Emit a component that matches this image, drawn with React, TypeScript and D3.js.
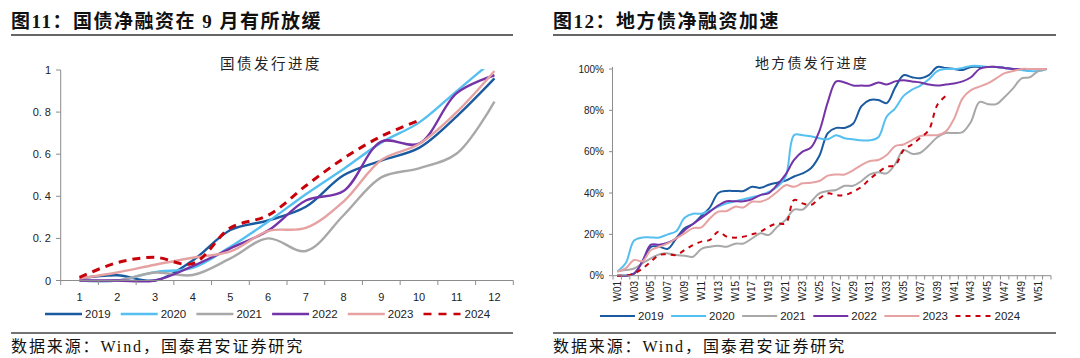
import React from 'react';
import * as d3 from 'd3';

const months = ['1', '2', '3', '4', '5', '6', '7', '8', '9', '10', '11', '12'];
const yTicksLeft = [0, 0.2, 0.4, 0.6, 0.8, 1];
const yTickLabelsLeft = ['0', '0. 2', '0. 4', '0. 6', '0. 8', '1'];

const nat2019 = [0.01, 0.025, 0, 0.095, 0.24, 0.285, 0.35, 0.5, 0.57, 0.63, 0.78, 0.96];
const nat2020 = [0, 0, 0.04, 0.06, 0.16, 0.28, 0.41, 0.53, 0.655, 0.75, 0.9, 1.05];
const nat2021 = [0, 0, 0.038, 0.026, 0.105, 0.2, 0.14, 0.31, 0.49, 0.533, 0.603, 0.85];
const nat2022 = [0, 0, 0, 0.068, 0.153, 0.237, 0.38, 0.425, 0.66, 0.65, 0.89, 0.975];
const nat2023 = [0.01, 0.038, 0.075, 0.108, 0.138, 0.235, 0.25, 0.375, 0.572, 0.648, 0.8, 0.995];
const nat2024 = [0.015, 0.085, 0.11, 0.08, 0.25, 0.31, 0.45, 0.58, 0.685, 0.76, null, null];

const weeks = d3.range(1, 53).map((i) => 'W' + String(i).padStart(2, '0'));
const yTicksRight = [0, 0.2, 0.4, 0.6, 0.8, 1];

const loc2019 = [0, 0, 1, 7, 14, 14, 13, 18, 23, 25, 29, 33, 40, 41, 41, 41, 43, 42.5, 44, 45, 46, 48, 49.5, 52, 58, 69, 71.5, 71.5, 73.5, 82, 85, 85, 83.5, 91, 97, 96, 95.5, 97, 101, 100.5, 100, 99.5, 101, 101, 101, 101, 100.5, 100, 100, 100, 100, 100];
const loc2020 = [2, 6, 17, 18.5, 18.5, 18.5, 20, 21.5, 28, 30, 30, 31.5, 33.5, 35, 36, 37, 38, 39, 40.5, 43, 48, 68, 68, 67.5, 66.5, 66, 68, 66.5, 66, 65.5, 65.5, 67, 77, 81, 87, 90, 92, 95, 99, 100, 100, 100.5, 101.5, 101.5, 101, 101, 100.5, 100, 99.5, 99, 99, 100];
const loc2021 = [2, 2.7, 3.5, 6, 8.4, 10.3, 10.8, 10, 9.7, 9.2, 13, 14, 14.5, 14, 15.5, 15.6, 18, 20.5, 19.7, 23.7, 27, 32, 32, 35.8, 39.8, 41, 41.5, 43.5, 43.5, 45.8, 49, 50, 49.5, 54, 60.8, 59, 59.5, 63, 67, 69, 69, 69.5, 74.5, 84, 83, 83, 86.5, 90.6, 95.5, 96, 99, 100];
const loc2022 = [0, 0, 1, 7, 15, 15, 16, 18, 22, 25, 28, 31, 34, 36, 36, 36, 37, 39, 40, 44, 49, 56, 60, 62, 70, 84, 94, 93.5, 92, 92, 92, 93.5, 92.5, 94, 94.5, 94, 93.5, 92.5, 92, 92.5, 93, 94, 96, 100, 101, 101, 100.5, 100, 100, 100, 100, 100];
const loc2023 = [2, 3.5, 7.6, 7, 12.4, 14, 15.6, 18, 20.5, 23, 23.4, 27.7, 31, 31.3, 33.4, 33, 35.8, 35.8, 37.4, 40.6, 43.8, 43, 44.7, 45, 45.8, 48.4, 49, 49, 51, 53.5, 55.5, 56, 58.4, 62.7, 63.5, 65.6, 67.6, 68, 68, 69.7, 76, 85.8, 89.8, 91.5, 93, 95.5, 98, 99, 100, 100, 100, 100];
const loc2024 = [0, 0, 1, 3.5, 6.8, 10, 10.3, 10, 12.4, 14.8, 16.5, 17.3, 21.3, 18.9, 18.4, 18.9, 20, 21.3, 23.7, 25.3, 25.3, 36.6, 35, 34.2, 37.4, 39.8, 39, 39, 40.6, 43, 46.8, 50, 52.7, 53.5, 60.8, 63.5, 66.8, 70.5, 82.6, 87];

const years = ['2019', '2020', '2021', '2022', '2023', '2024'];
const colors = ['#1a5aa0', '#55c0f0', '#a8a8a8', '#7434a8', '#e6a2a2', '#c8000a'];

const natSeries = [nat2019, nat2020, nat2021, nat2022, nat2023, nat2024];
const locSeries = [loc2019, loc2020, loc2021, loc2022, loc2023, loc2024].map((s) =>
  weeks.map((_, i) => (i < s.length ? s[i] / 100 : null))
);

const SANS = '"Liberation Sans", Arial, "Noto Sans CJK SC", sans-serif';
const SERIF = '"Liberation Serif", "Times New Roman", "Noto Sans CJK SC", serif';
const AXIS = '#8c8c8c';

function Header({ x0, x1, title }: { x0: number; x1: number; title: string }) {
  return (
    <g>
      <text x={x0} y={28} fontFamily={SERIF} fontWeight="bold" fontSize={19} letterSpacing={1.5} fill="#111">
        {title}
      </text>
      <line x1={x0} x2={x1} y1={35} y2={35} stroke="#666" strokeWidth={2} />
      <line x1={x0} x2={x1} y1={333} y2={333} stroke="#444" strokeWidth={1.5} />
      <text x={x0} y={352} fontFamily={SERIF} fontSize={16} letterSpacing={1.9} fill="#111">
        数据来源：Wind，国泰君安证券研究
      </text>
    </g>
  );
}

function Legend({ x0, step, lineLen, y, dash, sw }: { x0: number; step: number; lineLen: number; y: number; dash: string; sw: number }) {
  return (
    <g>
      {years.map((yr, i) => {
        const lx = x0 + i * step;
        return (
          <g key={yr}>
            <line x1={lx} x2={lx + lineLen} y1={y} y2={y} stroke={colors[i]} strokeWidth={sw} strokeDasharray={i === 5 ? dash : undefined} />
            <text x={lx + lineLen + (i === 5 ? 4 : 3)} y={y + 4} fontFamily={SANS} fontSize={11.5} fill="#222">
              {yr}
            </text>
          </g>
        );
      })}
    </g>
  );
}

function LeftChart() {
  const x = d3.scaleBand<string>().domain(months).range([60.7, 513.3]);
  const y = d3.scaleLinear().domain([0, 1]).range([280.5, 70]);
  const bw = x.bandwidth();
  const line = d3
    .line<number | null>()
    .defined((d) => d != null)
    .x((_, i) => (x(months[i]) as number) + bw / 2)
    .y((d) => y(d as number))
    .curve(d3.curveCatmullRom.alpha(0.5));
  const bounds = months.map((m) => x(m) as number).concat([x.range()[1]]);
  return (
    <g>
      <defs>
        <clipPath id="clipL">
          <rect x={55} y={69} width={470} height={220} />
        </clipPath>
      </defs>
      <text x={271} y={69} textAnchor="middle" fontFamily={SERIF} fontSize={14.5} letterSpacing={2.5} fill="#222">
        国债发行进度
      </text>
      <line x1={60.7} x2={60.7} y1={70} y2={280.5} stroke={AXIS} strokeWidth={1} />
      {yTicksLeft.map((t, i) => (
        <g key={t}>
          <line x1={56} x2={60.7} y1={y(t)} y2={y(t)} stroke={AXIS} />
          <text x={51} y={y(t) + 4} textAnchor="end" fontFamily={SANS} fontSize={11} fill="#222">
            {yTickLabelsLeft[i]}
          </text>
        </g>
      ))}
      <g clipPath="url(#clipL)">
        {natSeries.map((s, i) => (
          <path
            key={years[i]}
            d={line(s) as string}
            fill="none"
            stroke={colors[i]}
            strokeWidth={i === 5 ? 3 : 2.4}
            strokeDasharray={i === 5 ? '8,6' : undefined}
          />
        ))}
      </g>
      <line x1={60.7} x2={513.3} y1={280.5} y2={280.5} stroke={AXIS} strokeWidth={1} />
      {bounds.map((b, i) => (
        <line key={i} x1={b} x2={b} y1={280.5} y2={285} stroke={AXIS} />
      ))}
      {months.map((m) => (
        <text key={m} x={(x(m) as number) + bw / 2} y={301} textAnchor="middle" fontFamily={SANS} fontSize={11} fill="#222">
          {m}
        </text>
      ))}
      <Legend x0={45} step={75.7} lineLen={37} y={314} dash="8,7" sw={2.5} />
    </g>
  );
}

function RightChart() {
  const x = d3.scaleBand<string>().domain(weeks).range([613, 1051]);
  const y = d3.scaleLinear().domain([0, 1]).range([275.7, 69]);
  const bw = x.bandwidth();
  const line = d3
    .line<number | null>()
    .defined((d) => d != null)
    .x((_, i) => (x(weeks[i]) as number) + bw / 2)
    .y((d) => y(d as number))
    .curve(d3.curveCatmullRom.alpha(0.5));
  const bounds = weeks.map((w) => x(w) as number).concat([x.range()[1]]);
  return (
    <g>
      <text x={812} y={68} textAnchor="middle" fontFamily={SERIF} fontSize={14} letterSpacing={2.3} fill="#222">
        地方债发行进度
      </text>
      <line x1={612.5} x2={612.5} y1={67} y2={275.7} stroke={AXIS} strokeWidth={1} />
      {yTicksRight.map((t) => (
        <g key={t}>
          <line x1={609} x2={612.5} y1={y(t)} y2={y(t)} stroke={AXIS} />
          <text x={604} y={y(t) + 3.5} textAnchor="end" fontFamily={SANS} fontSize={10} fill="#222">
            {d3.format('.0%')(t)}
          </text>
        </g>
      ))}
      {locSeries.map((s, i) => (
        <path
          key={years[i]}
          d={line(s) as string}
          fill="none"
          stroke={colors[i]}
          strokeWidth={2}
          strokeDasharray={i === 5 ? '5,5' : undefined}
        />
      ))}
      <line x1={613} x2={1051} y1={275.7} y2={275.7} stroke={AXIS} strokeWidth={1} />
      {bounds.map((b, i) => (
        <line key={i} x1={b} x2={b} y1={275.7} y2={279.5} stroke={AXIS} />
      ))}
      {weeks.map((w, i) =>
        i % 2 === 0 ? (
          <text
            key={w}
            transform={`translate(${(x(w) as number) + bw / 2 + 3.5},281) rotate(-90)`}
            textAnchor="end"
            fontFamily={SANS}
            fontSize={10}
            fill="#222"
          >
            {w}
          </text>
        ) : null
      )}
      <Legend x0={600} step={71.1} lineLen={35} y={316} dash="5,5" sw={2} />
    </g>
  );
}

export default function App() {
  return (
    <svg width={1080} height={358} style={{ position: 'absolute', left: 0, top: 0, background: '#fff' }}>
      <rect width={1080} height={358} fill="#fff" />
      <Header x0={11} x1={513} title="图11：国债净融资在 9 月有所放缓" />
      <Header x0={553} x1={1056} title="图12：地方债净融资加速" />
      <LeftChart />
      <RightChart />
    </svg>
  );
}
